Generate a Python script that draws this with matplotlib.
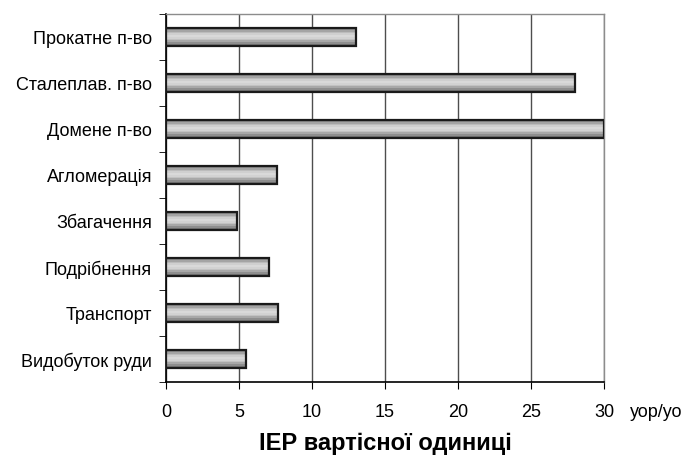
import numpy as np
import matplotlib.pyplot as plt

plt.rcParams['font.family'] = ['Liberation Sans', 'DejaVu Sans']

# categories listed bottom to top
categories = ['Видобуток руди', 'Транспорт', 'Подрібнення', 'Збагачення',
              'Агломерація', 'Домене п-во', 'Сталеплав. п-во', 'Прокатне п-во']
values = [5.5, 7.7, 7.05, 4.85, 7.6, 30.0, 28.0, 13.0]
xticks = [0, 5, 10, 15, 20, 25, 30]

# horizontal shading stripes of each bar, top to bottom
stripe_colors = ['#8a8a8a', '#a4a4a4', '#bcbcbc', '#cfcfcf', '#d9d9d9',
                 '#d2d2d2', '#c2c2c2', '#a8a8a8', '#8e8e8e', '#747474']

fs = 13

fig = plt.figure(figsize=(6.91, 4.64), dpi=100)
ax = fig.add_axes([0.2402, 0.1746, 0.6339, 0.7931])

y = np.arange(len(categories))
h = 0.38
n = len(stripe_colors)
sh = h / n
for i, c in enumerate(stripe_colors):
    offs = h / 2 - sh * (i + 0.5)
    ax.barh(y + offs, values, height=sh * 1.05, left=0, color=c,
            linewidth=0, zorder=3)
ax.barh(y, values, height=h, facecolor='none', edgecolor='#1a1a1a',
        linewidth=1.6, zorder=4)

ax.set_xlim(0, 30)
ax.set_ylim(-0.5, len(categories) - 0.5)
ax.set_xticks(xticks)
ax.set_xticklabels([str(t) for t in xticks], fontsize=fs)
ax.set_yticks(y)
ax.set_yticklabels(categories, fontsize=fs)
ax.set_yticks(np.arange(len(categories) + 1) - 0.5, minor=True)
ax.tick_params(axis='y', which='major', length=0, pad=10)
ax.tick_params(axis='y', which='minor', length=5, direction='out', color='black')
ax.tick_params(axis='x', length=5, direction='out', pad=10, color='black')

ax.grid(axis='x', color='#4d4d4d', linewidth=1, zorder=1)
ax.set_axisbelow(True)

for s in ['top', 'right']:
    ax.spines[s].set_color('#8c8c8c')
    ax.spines[s].set_linewidth(1)
for s in ['left', 'bottom']:
    ax.spines[s].set_color('black')
    ax.spines[s].set_linewidth(1.2)

ax.text(1.059, -0.057, 'уор/уо', transform=ax.transAxes, fontsize=fs,
        va='top', ha='left')
fig.text(0.558, 0.045, 'ІЕР вартісної одиниці', fontsize=17,
         fontweight='bold', ha='center', va='center')

fig.savefig('out.png', dpi=100)
